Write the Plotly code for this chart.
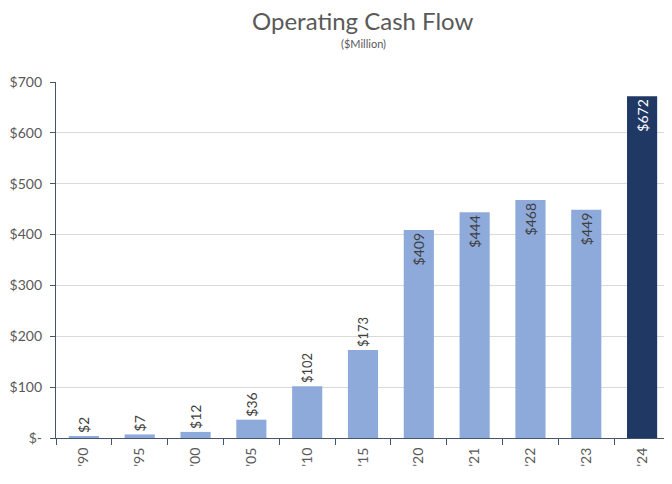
import plotly.graph_objects as go

years = ["'90", "'95", "'00", "'05", "'10", "'15", "'20", "'21", "'22", "'23", "'24"]
cash_flow = [2, 7, 12, 36, 102, 173, 409, 444, 468, 449, 672]
labels = ["$2", "$7", "$12", "$36", "$102", "$173", "$409", "$444", "$468", "$449", "$672"]
y_ticks = [0, 100, 200, 300, 400, 500, 600, 700]
y_tick_text = ["$-", "$100", "$200", "$300", "$400", "$500", "$600", "$700"]

light = "#8eaadb"
dark = "#1f3864"
bar_colors = [light] * 10 + [dark]
# small bars get their label above, tall ones inside near the top
positions = ["outside"] * 6 + ["inside"] * 5
label_colors = ["#404040"] * 10 + ["white"]

fig = go.Figure(go.Bar(
    x=years, y=cash_flow, text=labels,
    textposition=positions, textangle=-90,
    insidetextanchor="end",
    textfont=dict(size=14, color=label_colors, family="Lato"),
    outsidetextfont=dict(size=14, color="#404040", family="Lato"),
    insidetextfont=dict(size=14, color=label_colors, family="Lato"),
    marker=dict(color=bar_colors, line=dict(width=0)),
    cliponaxis=False,
))

fig.update_layout(
    width=664, height=476,
    margin=dict(l=46, r=2, t=74, b=46),
    paper_bgcolor="white", plot_bgcolor="white",
    bargap=0.46,
    showlegend=False,
    font=dict(family="Lato", color="#595959"),
    annotations=[
        dict(text="Operating Cash Flow", x=0.5, y=1, xref="paper", yref="paper",
             xanchor="center", yanchor="middle", yshift=62, showarrow=False,
             font=dict(size=24, color="#595959", family="Lato")),
        dict(text="($Million)", x=0.5, y=1, xref="paper", yref="paper",
             xanchor="center", yanchor="middle", yshift=39, showarrow=False,
             font=dict(size=11, color="#595959", family="Lato")),
    ],
)

fig.update_xaxes(
    type="category", tickangle=-90,
    showline=True, linecolor="#44546a", linewidth=1.3,
    ticks="outside", tickson="boundaries", ticklen=6, tickcolor="#44546a",
    tickfont=dict(size=14, color="#595959"),
    ticklabelstandoff=3,
    showgrid=False,
)
fig.update_yaxes(
    range=[0, 700], tickvals=y_ticks, ticktext=y_tick_text,
    showline=True, linecolor="#44546a", linewidth=1.3,
    ticks="outside", ticklen=5, tickcolor="#44546a",
    showgrid=True, gridcolor="#d9d9d9", gridwidth=1,
    tickfont=dict(size=14, color="#595959"),
    ticklabelstandoff=5,
    zeroline=False,
)

fig.write_html("out.html")
